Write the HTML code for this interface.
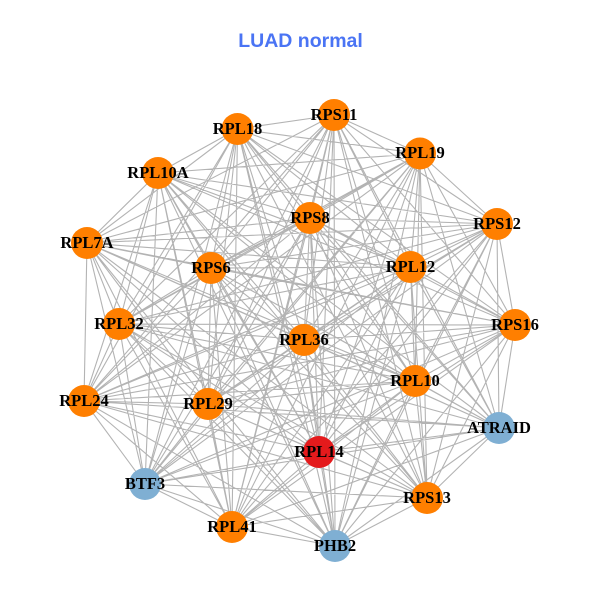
<!DOCTYPE html>
<html>
<head>
<meta charset="utf-8">
<style>
html,body{margin:0;padding:0;background:#fff}
svg{display:block}
.l{font-family:"Liberation Serif",serif;font-weight:bold;font-size:16.5px;text-anchor:middle;fill:#000}
</style>
</head>
<body>
<svg id="s" width="600" height="600" viewBox="0 0 600 600" xmlns="http://www.w3.org/2000/svg">
<rect width="600" height="600" fill="#fff"/>
<text x="300.5" y="47" text-anchor="middle" style="font-family:'Liberation Sans',sans-serif;font-weight:bold;font-size:19.5px;fill:#4a74f4">LUAD normal</text>
<g id="e" stroke="#b3b3b3" stroke-width="1.1" fill="none"></g>
<g id="n">
<circle cx="237.5" cy="129" r="16" fill="#ff7f00"/>
<circle cx="158" cy="173" r="16" fill="#ff7f00"/>
<circle cx="87" cy="243" r="16" fill="#ff7f00"/>
<circle cx="211" cy="268" r="16" fill="#ff7f00"/>
<circle cx="119" cy="324" r="16" fill="#ff7f00"/>
<circle cx="334" cy="115" r="16" fill="#ff7f00"/>
<circle cx="420" cy="153.5" r="16" fill="#ff7f00"/>
<circle cx="310" cy="218" r="16" fill="#ff7f00"/>
<circle cx="497" cy="224" r="16" fill="#ff7f00"/>
<circle cx="410.5" cy="267" r="16" fill="#ff7f00"/>
<circle cx="515" cy="325" r="16" fill="#ff7f00"/>
<circle cx="304" cy="340" r="16" fill="#ff7f00"/>
<circle cx="84" cy="401" r="16" fill="#ff7f00"/>
<circle cx="208" cy="404" r="16" fill="#ff7f00"/>
<circle cx="145" cy="484" r="16" fill="#7fafd3"/>
<circle cx="232" cy="527" r="16" fill="#ff7f00"/>
<circle cx="415" cy="381" r="16" fill="#ff7f00"/>
<circle cx="499" cy="428" r="16" fill="#7fafd3"/>
<circle cx="319" cy="452" r="16" fill="#e41a1c"/>
<circle cx="427" cy="498" r="16" fill="#ff7f00"/>
<circle cx="335" cy="546" r="16" fill="#7fafd3"/>
</g>
<g>
<text class="l" x="237.5" y="134">RPL18</text>
<text class="l" x="158" y="178">RPL10A</text>
<text class="l" x="87" y="248">RPL7A</text>
<text class="l" x="211" y="273">RPS6</text>
<text class="l" x="119" y="329">RPL32</text>
<text class="l" x="334" y="120">RPS11</text>
<text class="l" x="420" y="158">RPL19</text>
<text class="l" x="310" y="223">RPS8</text>
<text class="l" x="497" y="229">RPS12</text>
<text class="l" x="410.5" y="272">RPL12</text>
<text class="l" x="515" y="330">RPS16</text>
<text class="l" x="304" y="345">RPL36</text>
<text class="l" x="84" y="406">RPL24</text>
<text class="l" x="208" y="409">RPL29</text>
<text class="l" x="145" y="489">BTF3</text>
<text class="l" x="232" y="532">RPL41</text>
<text class="l" x="415" y="386">RPL10</text>
<text class="l" x="499" y="433">ATRAID</text>
<text class="l" x="319" y="457">RPL14</text>
<text class="l" x="427" y="503">RPS13</text>
<text class="l" x="335" y="551">PHB2</text>
</g>
</svg>
<script>
var c=document.querySelectorAll('#n circle'),d='';
for(var i=0;i<c.length;i++)for(var j=i+1;j<c.length;j++){
if(i==1&&j==5)continue;
d+='M'+c[i].getAttribute('cx')+' '+c[i].getAttribute('cy')+'L'+c[j].getAttribute('cx')+' '+c[j].getAttribute('cy');
}
var p=document.createElementNS('http://www.w3.org/2000/svg','path');
p.setAttribute('d',d);
document.getElementById('e').appendChild(p);
</script>
</body>
</html>
